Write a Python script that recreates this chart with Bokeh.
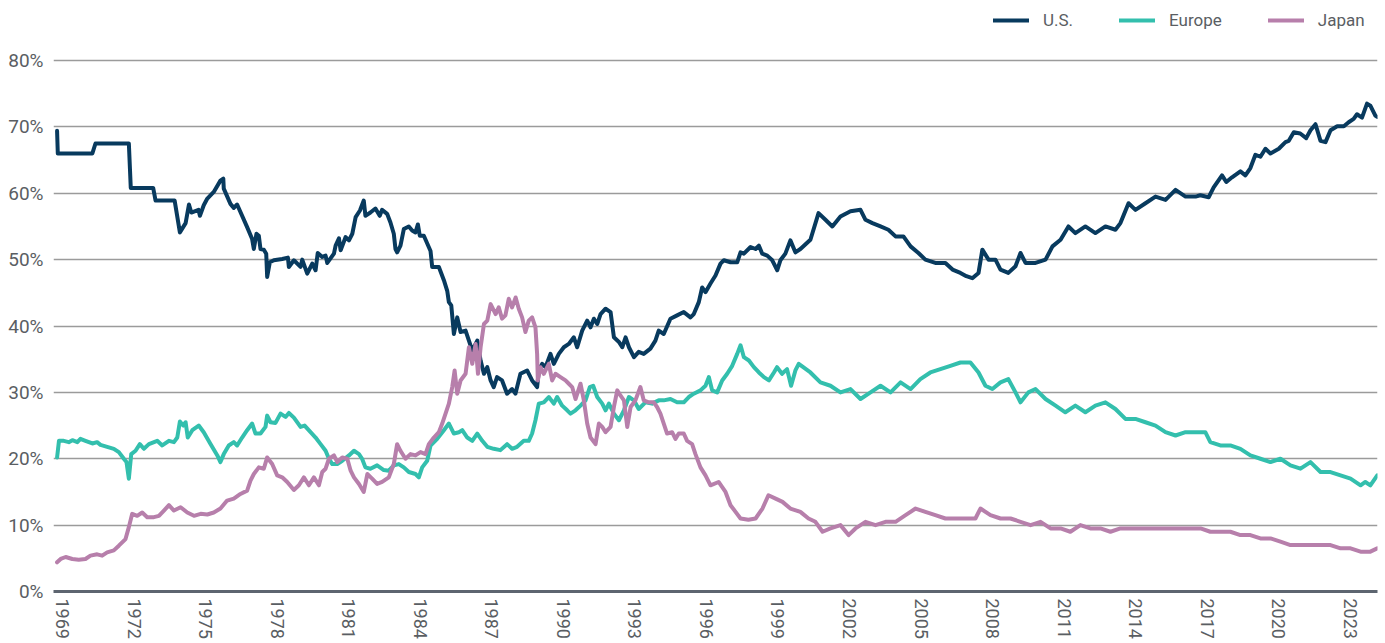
from bokeh.plotting import figure
from bokeh.models import (ColumnDataSource, FixedTicker, CustomJSTickFormatter,
                          Range1d, Legend, LegendItem)
from bokeh.embed import file_html
from bokeh.resources import INLINE

# ---------------- data (share of world equity market, %) ----------------
us_year = [1968.77, 1968.80, 1970.25, 1970.38, 1971.78, 1971.86, 1972.80, 1972.90, 1973.70,
           1973.92, 1974.16, 1974.30, 1974.40, 1974.70, 1974.76, 1974.92, 1975.07, 1975.34,
           1975.62, 1975.74, 1975.76, 1976.04, 1976.18, 1976.32, 1976.74, 1976.95, 1977.02,
           1977.13, 1977.23, 1977.30, 1977.44, 1977.54, 1977.58, 1977.69, 1977.86, 1978.21,
           1978.45, 1978.49, 1978.70, 1978.98, 1979.05, 1979.26, 1979.47, 1979.61, 1979.70,
           1979.89, 1980.03, 1980.10, 1980.38, 1980.45, 1980.59, 1980.66, 1980.87, 1981.01,
           1981.15, 1981.29, 1981.47, 1981.63, 1981.70, 1981.91, 1982.12, 1982.30, 1982.40,
           1982.61, 1982.75, 1982.89, 1982.96, 1983.03, 1983.17, 1983.31, 1983.52, 1983.66,
           1983.80, 1983.90, 1983.98, 1984.15, 1984.43, 1984.50, 1984.78, 1984.99, 1985.13,
           1985.20, 1985.30, 1985.41, 1985.55, 1985.69, 1985.90, 1986.04, 1986.18, 1986.39,
           1986.53, 1986.67, 1986.81, 1986.95, 1987.08, 1987.22, 1987.43, 1987.64, 1987.85,
           1987.99, 1988.20, 1988.48, 1988.69, 1988.90, 1988.97, 1989.11, 1989.25, 1989.46,
           1989.60, 1989.81, 1990.02, 1990.23, 1990.44, 1990.58, 1990.79, 1991.00, 1991.14,
           1991.28, 1991.42, 1991.56, 1991.77, 1991.98, 1992.12, 1992.33, 1992.47, 1992.61,
           1992.75, 1992.96, 1993.16, 1993.37, 1993.65, 1993.86, 1994.00, 1994.21, 1994.49,
           1994.77, 1995.05, 1995.33, 1995.47, 1995.68, 1995.82, 1995.96, 1996.17, 1996.38,
           1996.59, 1996.73, 1997.01, 1997.29, 1997.43, 1997.57, 1997.85, 1998.06, 1998.20,
           1998.34, 1998.55, 1998.76, 1998.97, 1999.10, 1999.31, 1999.52, 1999.73, 1999.94,
           2000.36, 2000.70, 2000.99, 2001.28, 2001.62, 2002.04, 2002.46, 2002.67, 2002.96,
           2003.30, 2003.63, 2003.93, 2004.26, 2004.56, 2004.89, 2005.18, 2005.60, 2006.02,
           2006.32, 2006.65, 2006.90, 2007.15, 2007.41, 2007.57, 2007.83, 2008.12, 2008.33,
           2008.66, 2008.96, 2009.17, 2009.38, 2009.80, 2010.22, 2010.51, 2010.85, 2011.18,
           2011.47, 2011.89, 2012.31, 2012.73, 2013.15, 2013.36, 2013.70, 2013.99, 2014.41,
           2014.83, 2015.25, 2015.67, 2016.09, 2016.51, 2016.71, 2017.06, 2017.27, 2017.62,
           2017.80, 2018.04, 2018.39, 2018.60, 2018.81, 2019.02, 2019.23, 2019.44, 2019.65,
           2020.00, 2020.28, 2020.42, 2020.63, 2020.90, 2021.15, 2021.33, 2021.54, 2021.75,
           2021.96, 2022.17, 2022.45, 2022.73, 2022.93, 2023.14, 2023.28, 2023.49, 2023.70,
           2023.84, 2024.05, 2024.13]
us_share = [69.4, 66.0, 66.0, 67.5, 67.5, 60.8, 60.8, 58.9, 58.9,
            54.1, 55.5, 58.3, 57.1, 57.5, 56.6, 58.2, 59.2, 60.2,
            61.9, 62.2, 60.7, 58.4, 57.8, 58.3, 54.9, 53.1, 51.6,
            53.9, 53.6, 51.6, 51.5, 50.9, 47.4, 49.6, 49.9, 50.1,
            50.3, 48.9, 49.9, 48.9, 50.0, 47.9, 49.4, 48.4, 51.0,
            50.4, 50.6, 49.5, 50.9, 52.1, 53.2, 51.4, 53.4, 52.9,
            53.9, 56.4, 57.4, 58.9, 56.6, 57.1, 57.7, 56.6, 57.5,
            56.9, 55.6, 53.9, 51.6, 51.1, 52.1, 54.6, 55.0, 54.4,
            54.1, 55.3, 53.6, 53.6, 51.3, 48.9, 48.9, 46.9, 45.3,
            43.6, 43.1, 38.8, 41.3, 39.1, 39.3, 37.8, 36.3, 37.8,
            34.8, 32.8, 33.8, 31.8, 30.8, 32.3, 31.8, 29.8, 30.5,
            29.8, 32.8, 33.3, 31.8, 30.8, 33.3, 34.3, 33.8, 35.8,
            34.3, 35.8, 36.8, 37.3, 38.3, 36.8, 39.3, 40.8, 39.8,
            41.1, 40.3, 41.8, 42.6, 42.1, 38.3, 37.6, 36.8, 38.3,
            36.8, 35.3, 36.1, 35.8, 36.6, 37.8, 39.3, 38.8, 41.1,
            41.6, 42.1, 41.3, 41.8, 43.6, 45.8, 45.1, 46.4, 47.6,
            49.4, 49.9, 49.6, 49.6, 51.1, 50.9, 51.9, 51.6, 52.1,
            50.9, 50.6, 49.9, 48.4, 49.9, 50.9, 52.9, 51.1, 51.6,
            53.0, 57.0, 56.0, 55.0, 56.5, 57.3, 57.5, 56.0, 55.5,
            55.0, 54.5, 53.5, 53.5, 52.0, 51.0, 50.0, 49.5, 49.5,
            48.5, 48.0, 47.5, 47.2, 48.0, 51.5, 50.0, 50.0, 48.5,
            48.0, 49.0, 51.0, 49.5, 49.5, 50.0, 52.0, 53.0, 55.0,
            54.0, 55.0, 54.0, 55.0, 54.5, 55.5, 58.5, 57.5, 58.5,
            59.5, 59.0, 60.5, 59.5, 59.5, 59.7, 59.4, 60.9, 62.7,
            61.7, 62.4, 63.3, 62.7, 63.8, 65.8, 65.5, 66.7, 66.0,
            66.7, 67.7, 67.9, 69.2, 69.0, 68.3, 69.5, 70.4, 67.9,
            67.7, 69.5, 70.1, 70.1, 70.7, 71.2, 71.9, 71.4, 73.5,
            73.2, 71.7, 71.5]

eu_year = [1968.77, 1968.85, 1969.05, 1969.26, 1969.41, 1969.62, 1969.75, 1969.96, 1970.25,
           1970.45, 1970.59, 1970.87, 1971.15, 1971.36, 1971.57, 1971.68, 1971.78, 1971.88,
           1972.06, 1972.24, 1972.41, 1972.62, 1972.97, 1973.18, 1973.46, 1973.67, 1973.81,
           1973.92, 1974.06, 1974.16, 1974.25, 1974.44, 1974.71, 1974.92, 1975.21, 1975.49,
           1975.62, 1975.76, 1975.97, 1976.18, 1976.32, 1976.53, 1976.74, 1976.95, 1977.09,
           1977.30, 1977.51, 1977.58, 1977.72, 1977.93, 1978.14, 1978.35, 1978.49, 1978.70,
           1978.98, 1979.15, 1979.40, 1979.61, 1979.82, 1980.03, 1980.17, 1980.31, 1980.52,
           1980.73, 1981.01, 1981.22, 1981.43, 1981.56, 1981.70, 1981.91, 1982.19, 1982.47,
           1982.68, 1982.89, 1983.10, 1983.31, 1983.52, 1983.80, 1983.94, 1984.08, 1984.29,
           1984.43, 1984.71, 1984.99, 1985.20, 1985.41, 1985.62, 1985.76, 1985.97, 1986.18,
           1986.39, 1986.60, 1986.81, 1987.08, 1987.36, 1987.64, 1987.85, 1988.06, 1988.34,
           1988.55, 1988.69, 1988.83, 1988.97, 1989.18, 1989.39, 1989.60, 1989.74, 1989.95,
           1990.16, 1990.30, 1990.51, 1990.72, 1990.93, 1991.11, 1991.25, 1991.42, 1991.63,
           1991.77, 1991.91, 1992.12, 1992.33, 1992.54, 1992.75, 1992.96, 1993.16, 1993.44,
           1993.72, 1994.00, 1994.21, 1994.49, 1994.77, 1995.05, 1995.26, 1995.47, 1995.75,
           1995.96, 1996.10, 1996.24, 1996.45, 1996.66, 1996.87, 1997.08, 1997.29, 1997.43,
           1997.57, 1997.78, 1997.99, 1998.20, 1998.41, 1998.62, 1998.83, 1998.96, 1999.17,
           1999.38, 1999.55, 1999.73, 1999.87, 2000.36, 2000.78, 2001.20, 2001.62, 2002.04,
           2002.46, 2002.88, 2003.30, 2003.72, 2004.14, 2004.56, 2004.97, 2005.39, 2005.81,
           2006.23, 2006.65, 2007.07, 2007.41, 2007.70, 2007.99, 2008.33, 2008.66, 2008.96,
           2009.17, 2009.50, 2009.80, 2010.22, 2010.64, 2011.05, 2011.47, 2011.89, 2012.31,
           2012.73, 2013.15, 2013.57, 2013.99, 2014.41, 2014.83, 2015.25, 2015.67, 2016.09,
           2016.51, 2016.92, 2017.13, 2017.55, 2017.97, 2018.39, 2018.81, 2019.23, 2019.65,
           2020.07, 2020.49, 2020.91, 2021.33, 2021.75, 2022.17, 2022.59, 2023.01, 2023.43,
           2023.63, 2023.84, 2024.13]
eu_share = [20.2, 22.7, 22.7, 22.5, 22.8, 22.5, 23.0, 22.7, 22.3,
            22.5, 22.1, 21.8, 21.5, 21.0, 20.0, 19.5, 17.0, 20.7,
            21.2, 22.2, 21.5, 22.2, 22.7, 22.0, 22.7, 22.5, 23.2,
            25.6, 25.0, 25.5, 23.2, 24.3, 25.0, 24.0, 22.2, 20.5,
            19.5, 20.7, 22.0, 22.5, 22.0, 23.2, 24.3, 25.3, 23.8,
            23.8, 24.8, 26.5, 25.5, 25.4, 26.8, 26.3, 26.9, 26.2,
            24.8, 25.0, 24.0, 23.2, 22.2, 21.2, 20.0, 19.2, 19.2,
            19.7, 20.5, 21.2, 20.7, 20.0, 18.7, 18.5, 19.0, 18.3,
            18.2, 19.0, 19.2, 18.7, 18.0, 17.7, 17.2, 18.7, 19.7,
            22.0, 23.0, 24.3, 25.3, 23.8, 24.0, 24.3, 23.2, 22.7,
            23.8, 22.7, 21.8, 21.5, 21.3, 22.2, 21.5, 21.8, 22.7,
            22.7, 23.8, 25.8, 28.3, 28.5, 29.3, 28.3, 29.3, 28.0,
            27.3, 26.8, 27.3, 28.0, 28.8, 30.8, 31.0, 29.3, 28.3,
            27.3, 28.3, 26.8, 25.8, 27.3, 29.3, 28.8, 27.5, 28.5,
            28.3, 28.8, 28.8, 29.0, 28.5, 28.5, 29.3, 29.8, 30.3,
            31.0, 32.3, 30.3, 30.0, 31.8, 32.8, 34.0, 35.8, 37.1,
            35.3, 34.8, 33.8, 33.0, 32.3, 31.8, 33.0, 33.8, 32.8,
            33.5, 31.0, 33.3, 34.3, 33.0, 31.5, 31.0, 30.0, 30.5,
            29.0, 30.0, 31.0, 30.0, 31.5, 30.5, 32.0, 33.0, 33.5,
            34.0, 34.5, 34.5, 33.0, 31.0, 30.5, 31.5, 32.0, 30.0,
            28.5, 30.0, 30.5, 29.0, 28.0, 27.0, 28.0, 27.0, 28.0,
            28.5, 27.5, 26.0, 26.0, 25.5, 25.0, 24.0, 23.5, 24.0,
            24.0, 24.0, 22.5, 22.0, 22.0, 21.5, 20.5, 20.0, 19.5,
            20.0, 19.0, 18.5, 19.5, 18.0, 18.0, 17.5, 17.0, 16.0,
            16.5, 16.0, 17.5]

jp_year = [1968.77, 1968.92, 1969.13, 1969.41, 1969.68, 1969.96, 1970.17, 1970.45, 1970.66,
           1970.87, 1971.15, 1971.36, 1971.64, 1971.78, 1971.92, 1972.13, 1972.34, 1972.55,
           1972.83, 1973.04, 1973.25, 1973.46, 1973.67, 1973.95, 1974.23, 1974.51, 1974.79,
           1975.07, 1975.34, 1975.62, 1975.90, 1976.18, 1976.46, 1976.74, 1976.88, 1977.02,
           1977.23, 1977.44, 1977.58, 1977.79, 1978.00, 1978.21, 1978.42, 1978.70, 1978.91,
           1979.12, 1979.33, 1979.54, 1979.75, 1979.89, 1980.03, 1980.17, 1980.38, 1980.52,
           1980.73, 1980.94, 1981.08, 1981.22, 1981.43, 1981.63, 1981.78, 1981.98, 1982.19,
           1982.40, 1982.68, 1982.89, 1983.03, 1983.17, 1983.38, 1983.59, 1983.80, 1984.01,
           1984.22, 1984.36, 1984.57, 1984.78, 1984.92, 1985.06, 1985.20, 1985.34, 1985.44,
           1985.55, 1985.69, 1985.90, 1986.04, 1986.18, 1986.32, 1986.42, 1986.53, 1986.67,
           1986.81, 1986.95, 1987.16, 1987.29, 1987.43, 1987.57, 1987.71, 1987.85, 1988.00,
           1988.13, 1988.27, 1988.41, 1988.55, 1988.69, 1988.83, 1988.90, 1988.93, 1989.04,
           1989.18, 1989.39, 1989.53, 1989.67, 1989.88, 1990.09, 1990.23, 1990.37, 1990.51,
           1990.72, 1990.86, 1991.00, 1991.14, 1991.35, 1991.49, 1991.63, 1991.77, 1991.98,
           1992.12, 1992.26, 1992.40, 1992.54, 1992.68, 1992.82, 1993.02, 1993.23, 1993.37,
           1993.58, 1993.79, 1993.93, 1994.07, 1994.21, 1994.35, 1994.56, 1994.70, 1994.84,
           1995.05, 1995.19, 1995.40, 1995.54, 1995.75, 1995.96, 1996.17, 1996.51, 1996.80,
           1997.01, 1997.22, 1997.43, 1997.76, 1998.06, 1998.35, 1998.60, 1998.90, 1999.19,
           1999.52, 1999.94, 2000.28, 2000.57, 2000.87, 2001.20, 2001.62, 2001.96, 2002.25,
           2002.67, 2003.09, 2003.51, 2003.93, 2004.35, 2004.77, 2005.18, 2005.60, 2006.02,
           2006.44, 2006.86, 2007.28, 2007.49, 2007.91, 2008.33, 2008.75, 2009.17, 2009.59,
           2010.01, 2010.43, 2010.85, 2011.26, 2011.68, 2012.10, 2012.52, 2012.94, 2013.36,
           2013.78, 2014.20, 2014.62, 2015.04, 2015.46, 2015.88, 2016.30, 2016.72, 2017.13,
           2017.55, 2017.97, 2018.39, 2018.81, 2019.23, 2019.65, 2020.07, 2020.49, 2020.91,
           2021.33, 2021.75, 2022.17, 2022.59, 2023.01, 2023.43, 2023.84, 2024.13]
jp_share = [4.4, 4.9, 5.2, 4.9, 4.8, 4.9, 5.4, 5.6, 5.4,
            5.9, 6.2, 6.9, 7.9, 9.7, 11.7, 11.4, 11.9, 11.2,
            11.2, 11.4, 12.2, 13.0, 12.2, 12.7, 11.9, 11.4, 11.7,
            11.6, 11.9, 12.5, 13.7, 14.0, 14.7, 15.2, 16.7, 17.7,
            18.7, 18.5, 20.2, 19.2, 17.5, 17.2, 16.5, 15.3, 16.0,
            17.2, 16.0, 17.2, 16.0, 18.0, 18.5, 20.0, 20.5, 19.5,
            20.2, 20.0, 18.2, 17.2, 16.2, 15.0, 17.7, 17.0, 16.2,
            16.5, 17.2, 19.2, 22.2, 21.2, 20.0, 20.7, 20.5, 21.0,
            20.7, 22.2, 23.2, 24.0, 25.3, 26.8, 28.3, 30.8, 33.3,
            29.8, 31.8, 32.8, 36.8, 34.3, 37.3, 32.8, 36.8, 40.3,
            40.8, 43.3, 41.8, 42.8, 41.1, 41.6, 44.1, 42.8, 44.3,
            42.6, 41.3, 39.1, 40.8, 41.3, 39.8, 35.8, 31.8, 33.8,
            32.8, 34.3, 31.8, 32.8, 32.3, 31.8, 31.3, 30.8, 29.0,
            31.3, 28.8, 25.3, 23.2, 22.2, 25.3, 24.8, 24.0, 24.8,
            27.8, 30.3, 29.5, 28.8, 24.8, 27.8, 28.8, 30.8, 28.8,
            28.5, 28.5, 27.8, 26.8, 25.3, 23.8, 24.0, 23.0, 23.8,
            23.8, 22.7, 22.2, 20.7, 18.7, 17.5, 16.0, 16.5, 15.0,
            13.0, 12.0, 11.0, 10.8, 11.0, 12.5, 14.5, 14.0, 13.5,
            12.5, 12.0, 11.0, 10.5, 9.0, 9.5, 10.0, 8.5, 9.5,
            10.5, 10.0, 10.5, 10.5, 11.5, 12.5, 12.0, 11.5, 11.0,
            11.0, 11.0, 11.0, 12.5, 11.5, 11.0, 11.0, 10.5, 10.0,
            10.5, 9.5, 9.5, 9.0, 10.0, 9.5, 9.5, 9.0, 9.5,
            9.5, 9.5, 9.5, 9.5, 9.5, 9.5, 9.5, 9.5, 9.0,
            9.0, 9.0, 8.5, 8.5, 8.0, 8.0, 7.5, 7.0, 7.0,
            7.0, 7.0, 7.0, 6.5, 6.5, 6.0, 6.0, 6.5]

series_names = ["U.S.", "Europe", "Japan"]
series_colors = ["#083a5e", "#33bfad", "#b77fab"]
x_ticks = list(range(1969, 2024, 3))
y_ticks = [0, 10, 20, 30, 40, 50, 60, 70, 80]

# ---------------- figure ----------------
p = figure(width=1385, height=643, output_backend="svg", toolbar_location=None,
           x_range=Range1d(1968.62, 2024.14), y_range=Range1d(0, 89.04),
           min_border_left=53, min_border_right=8, min_border_top=0, min_border_bottom=52)
p.outline_line_color = None
p.background_fill_color = "white"
p.border_fill_color = "white"

font = "Roboto"
label_color = "#5a5e63"

p.xgrid.grid_line_color = None
p.ygrid.grid_line_color = "#9b9b9b"
p.ygrid.grid_line_width = 1.5

p.yaxis.ticker = FixedTicker(ticks=y_ticks)
p.yaxis.formatter = CustomJSTickFormatter(code="return tick + '%';")
p.yaxis.axis_line_color = None
p.yaxis.major_tick_line_color = None
p.yaxis.minor_tick_line_color = None
p.yaxis.major_tick_out = 0
p.yaxis.major_tick_in = 0
p.yaxis.minor_tick_out = 0
p.yaxis.major_label_standoff = 10
p.yaxis.major_label_text_font = font
p.yaxis.major_label_text_font_size = "19px"
p.yaxis.major_label_text_color = label_color

p.xaxis.ticker = FixedTicker(ticks=x_ticks)
p.xaxis.major_label_orientation = "vertical"
p.xaxis.axis_line_color = "#5d6570"
p.xaxis.axis_line_width = 3
p.xaxis.major_tick_line_color = None
p.xaxis.minor_tick_line_color = None
p.xaxis.major_tick_out = 0
p.xaxis.major_tick_in = 0
p.xaxis.minor_tick_out = 0
p.xaxis.major_label_standoff = 7
p.xaxis.major_label_text_font = font
p.xaxis.major_label_text_font_size = "18px"
p.xaxis.major_label_text_color = label_color

items = []
for name, color, xs, ys in zip(series_names, series_colors,
                               [us_year, eu_year, jp_year],
                               [us_share, eu_share, jp_share]):
    src = ColumnDataSource(dict(x=xs, y=ys))
    r = p.line("x", "y", source=src, line_color=color, line_width=4,
               line_join="round", line_cap="round")
    items.append(LegendItem(label=name, renderers=[r]))

legend = Legend(items=items, orientation="horizontal", location=(940, 561),
                background_fill_alpha=0, border_line_color=None,
                glyph_width=36, glyph_height=20, label_standoff=14, spacing=46,
                padding=0, margin=0,
                label_text_font=font, label_text_font_size="17px",
                label_text_color=label_color)
p.add_layout(legend)

open("out.html", "w").write(file_html(p, INLINE))
